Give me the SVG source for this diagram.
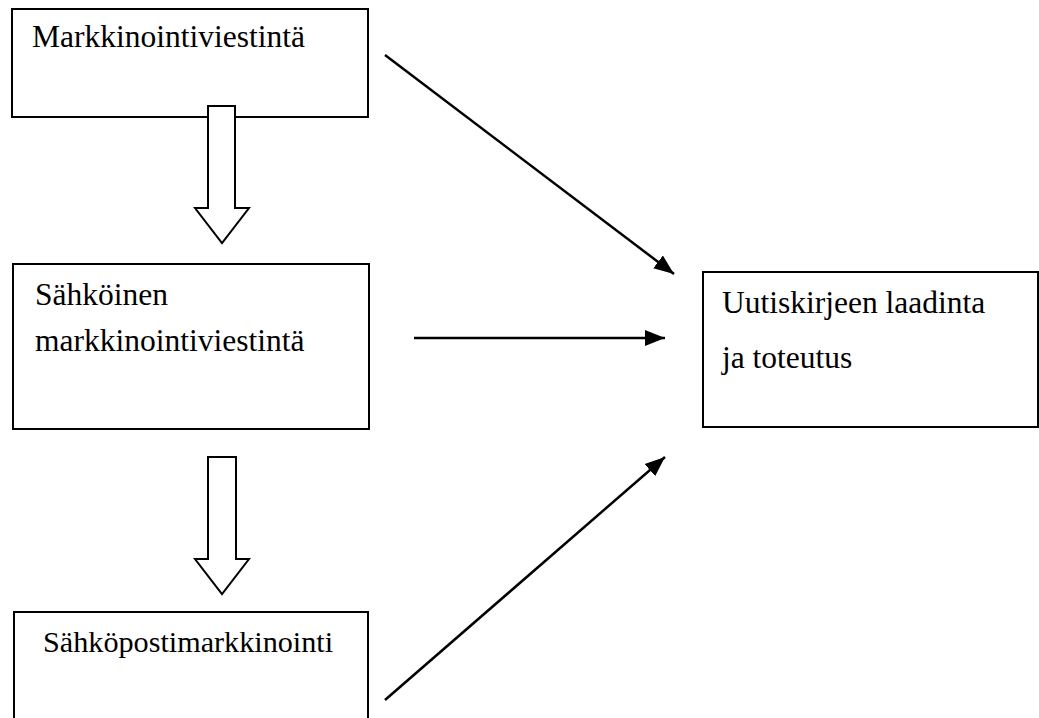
<svg xmlns="http://www.w3.org/2000/svg" width="1039" height="718" viewBox="0 0 1039 718">
<style>
.box{fill:#fff;stroke:#000;stroke-width:2}
.blk{fill:#fff;stroke:#000;stroke-width:2;stroke-linejoin:miter}
text{font-family:'Liberation Serif','Times New Roman',serif;font-size:31.5px;fill:#000}
.ln{stroke:#000;stroke-width:2.5;fill:none}
</style>
<defs>
<marker id="ah" markerUnits="userSpaceOnUse" markerWidth="22" markerHeight="18" refX="20" refY="9" orient="auto">
<path d="M0,1 L20,9 L0,17 Z" fill="#000"/>
</marker>
</defs>
<g id="n1">
<rect class="box" x="12" y="9" width="356" height="108"/>
<text x="32" y="47">Markkinointiviestintä</text>
</g>
<g id="n2">
<rect class="box" x="13" y="264" width="356" height="165"/>
<text x="35" y="305">Sähköinen</text>
<text x="35" y="351">markkinointiviestintä</text>
</g>
<g id="n3">
<rect class="box" x="14" y="612" width="354" height="120"/>
<text x="43" y="652" style="font-size:30.2px">Sähköpostimarkkinointi</text>
</g>
<g id="n4">
<rect class="box" x="703" y="272" width="335" height="155"/>
<text x="722" y="313">Uutiskirjeen laadinta</text>
<text x="722" y="368">ja toteutus</text>
</g>
<g id="connectors">
<path class="blk" d="M208,106 L235,106 L235,208 L249,208 L222,243 L195,208 L208,208 Z"/>
<path class="blk" d="M208,457 L236,457 L236,559 L249,559 L222,594 L195,559 L208,559 Z"/>
<line class="ln" x1="385" y1="55" x2="674" y2="274" marker-end="url(#ah)"/>
<line class="ln" x1="414" y1="338" x2="665" y2="338" marker-end="url(#ah)"/>
<line class="ln" x1="385" y1="700" x2="665" y2="457" marker-end="url(#ah)"/>
</g>
</svg>
